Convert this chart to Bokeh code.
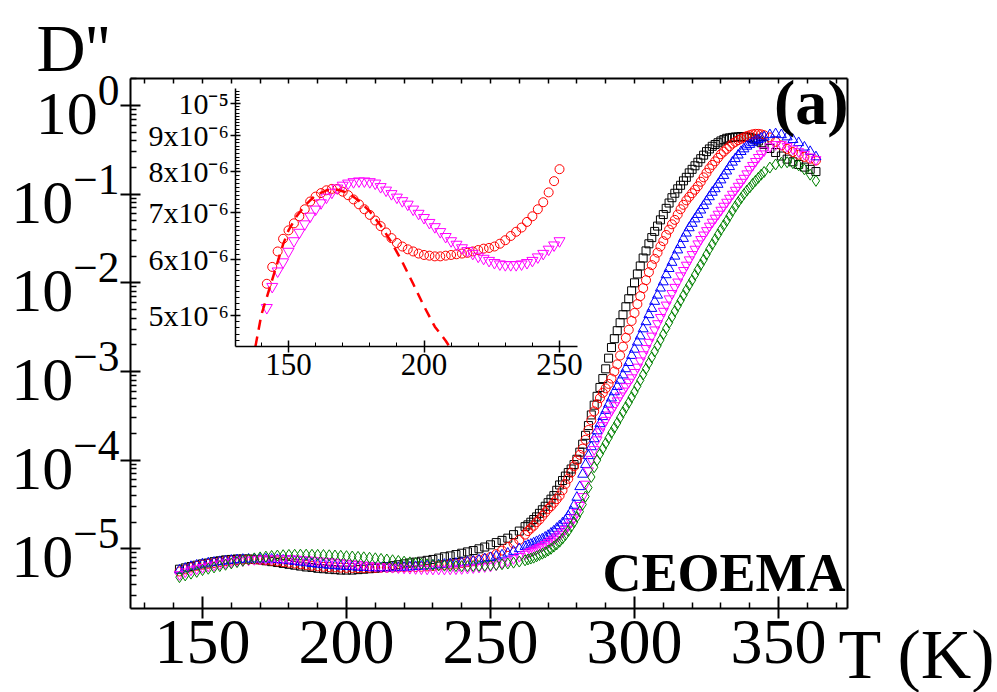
from bokeh.plotting import figure
from bokeh.models import (Range1d, LogScale, LinearAxis, LogAxis, FixedTicker, Label,
                          CustomJSTickFormatter)
from bokeh.embed import file_html
from bokeh.resources import INLINE

FONT = "Liberation Serif"

# Temperature grid (K): 2 K steps at low T, 1 K steps through the steep rise, 2 K steps near the top
T = list(range(142, 263, 2)) + list(range(263, 346)) + list(range(347, 364, 2))

# log10 D''
black_log10 = [
    -5.23, -5.215, -5.20, -5.185, -5.17, -5.16, -5.145, -5.135, -5.125, -5.12,
    -5.115, -5.115, -5.115, -5.12, -5.125, -5.135, -5.145, -5.155, -5.165, -5.175,
    -5.185, -5.195, -5.205, -5.21, -5.22, -5.225, -5.23, -5.235, -5.24, -5.24,
    -5.24, -5.235, -5.23, -5.225, -5.22, -5.21, -5.20, -5.19, -5.18, -5.17,
    -5.16, -5.15, -5.14, -5.13, -5.12, -5.105, -5.09, -5.08, -5.065, -5.05,
    -5.035, -5.02, -5.00, -4.98, -4.955, -4.93, -4.905, -4.88, -4.84, -4.80,
    -4.75,
    -4.73, -4.70, -4.67, -4.64, -4.60, -4.56, -4.52, -4.48, -4.44, -4.40,
    -4.34, -4.28, -4.23, -4.18, -4.14, -4.10, -4.05, -3.99, -3.91, -3.82,
    -3.72, -3.61, -3.49, -3.38, -3.28, -3.18, -3.08, -2.97, -2.85, -2.73,
    -2.63, -2.54, -2.45, -2.36, -2.27, -2.18, -2.09, -2.00, -1.90, -1.81,
    -1.72, -1.64, -1.56, -1.49, -1.42, -1.36, -1.29, -1.23, -1.16, -1.10,
    -1.04, -0.99, -0.94, -0.90, -0.85, -0.81, -0.76, -0.72, -0.68, -0.64,
    -0.60, -0.56, -0.52, -0.49, -0.46, -0.44, -0.42, -0.40, -0.385, -0.37,
    -0.365, -0.36, -0.355, -0.355, -0.35, -0.355, -0.355, -0.36, -0.37, -0.38,
    -0.40, -0.42, -0.44,
    -0.485, -0.53, -0.57, -0.605, -0.635, -0.665, -0.695, -0.72, -0.745,
]

red_log10 = [
    -5.256, -5.232, -5.21, -5.192, -5.18, -5.17, -5.16, -5.15, -5.139, -5.132,
    -5.127, -5.123, -5.121, -5.121, -5.125, -5.13, -5.136, -5.143, -5.15, -5.158,
    -5.166, -5.174, -5.183, -5.191, -5.198, -5.203, -5.207, -5.21, -5.213, -5.215,
    -5.216, -5.217, -5.217, -5.216, -5.215, -5.214, -5.213, -5.212, -5.21, -5.208,
    -5.206, -5.205, -5.203, -5.199, -5.194, -5.188, -5.182, -5.176, -5.168, -5.16,
    -5.15, -5.14, -5.126, -5.11, -5.093, -5.06, -5.02, -4.98, -4.94, -4.90,
    -4.84,
    -4.80, -4.77, -4.74, -4.70, -4.67, -4.63, -4.59, -4.55, -4.52, -4.48,
    -4.44, -4.40, -4.34, -4.27, -4.21, -4.14, -4.07, -4.00, -3.94, -3.87,
    -3.77, -3.66, -3.55, -3.45, -3.37, -3.30, -3.24, -3.19, -3.14, -3.08,
    -3.00, -2.92, -2.82, -2.72, -2.62, -2.53, -2.43, -2.34, -2.24, -2.15,
    -2.06, -1.97, -1.88, -1.80, -1.73, -1.66, -1.59, -1.53, -1.46, -1.40,
    -1.34, -1.29, -1.23, -1.17, -1.12, -1.07, -1.03, -0.99, -0.95, -0.91,
    -0.86, -0.81, -0.76, -0.71, -0.67, -0.63, -0.59, -0.55, -0.52, -0.49,
    -0.46, -0.43, -0.41, -0.39, -0.375, -0.36, -0.345, -0.335, -0.325, -0.32,
    -0.32, -0.325, -0.335,
    -0.36, -0.41, -0.45, -0.49, -0.525, -0.555, -0.58, -0.60, -0.62,
]

blue_log10 = [
    -5.24, -5.22, -5.20, -5.185, -5.17, -5.16, -5.152, -5.145, -5.138, -5.13,
    -5.125, -5.12, -5.118, -5.116, -5.115, -5.116, -5.118, -5.122, -5.128, -5.135,
    -5.143, -5.151, -5.159, -5.167, -5.175, -5.181, -5.187, -5.192, -5.197, -5.20,
    -5.204, -5.208, -5.211, -5.213, -5.215, -5.216, -5.216, -5.215, -5.213, -5.21,
    -5.206, -5.202, -5.198, -5.193, -5.188, -5.182, -5.176, -5.17, -5.164, -5.157,
    -5.149, -5.14, -5.128, -5.114, -5.10, -5.085, -5.07, -5.05, -5.03, -5.00,
    -4.975,
    -4.96, -4.95, -4.935, -4.92, -4.905, -4.89, -4.87, -4.85, -4.825, -4.80,
    -4.77, -4.74, -4.71, -4.68, -4.63, -4.58, -4.51, -4.42, -4.30, -4.16,
    -4.05, -3.95, -3.85, -3.76, -3.67, -3.59, -3.51, -3.44, -3.37, -3.30,
    -3.23, -3.17, -3.10, -3.04, -2.97, -2.90, -2.82, -2.75, -2.67, -2.60,
    -2.52, -2.44, -2.36, -2.29, -2.21, -2.14, -2.06, -1.99, -1.91, -1.84,
    -1.77, -1.70, -1.63, -1.57, -1.50, -1.44, -1.38, -1.33, -1.28, -1.23,
    -1.18, -1.13, -1.08, -1.03, -0.98, -0.94, -0.89, -0.84, -0.79, -0.74,
    -0.69, -0.64, -0.60, -0.56, -0.52, -0.49, -0.46, -0.44, -0.42, -0.40,
    -0.385, -0.37, -0.355,
    -0.33, -0.32, -0.33, -0.355, -0.385, -0.42, -0.47, -0.52, -0.58,
]

magenta_log10 = [
    -5.29, -5.26, -5.238, -5.225, -5.21, -5.195, -5.183, -5.171, -5.16, -5.15,
    -5.141, -5.133, -5.126, -5.12, -5.116, -5.113, -5.111, -5.11, -5.11, -5.111,
    -5.113, -5.118, -5.123, -5.128, -5.133, -5.138, -5.143, -5.15, -5.156, -5.162,
    -5.169, -5.175, -5.182, -5.189, -5.195, -5.20, -5.205, -5.209, -5.213, -5.217,
    -5.22, -5.223, -5.226, -5.228, -5.229, -5.229, -5.229, -5.228, -5.226, -5.223,
    -5.218, -5.213, -5.207, -5.201, -5.195, -5.18, -5.16, -5.135, -5.11, -5.085,
    -5.06,
    -5.045, -5.03, -5.015, -5.00, -4.985, -4.97, -4.95, -4.93, -4.91, -4.89,
    -4.865, -4.84, -4.81, -4.78, -4.74, -4.70, -4.65, -4.59, -4.51, -4.41,
    -4.27, -4.12, -3.99, -3.88, -3.77, -3.68, -3.61, -3.55, -3.49, -3.44,
    -3.385, -3.33, -3.275, -3.22, -3.17, -3.12, -3.07, -3.01, -2.95, -2.88,
    -2.81, -2.74, -2.67, -2.60, -2.53, -2.46, -2.39, -2.32, -2.25, -2.18,
    -2.12, -2.05, -1.99, -1.92, -1.86, -1.80, -1.74, -1.68, -1.62, -1.56,
    -1.51, -1.46, -1.41, -1.36, -1.315, -1.27, -1.225, -1.18, -1.135, -1.09,
    -1.045, -1.00, -0.955, -0.91, -0.865, -0.82, -0.77, -0.72, -0.675, -0.63,
    -0.585, -0.545, -0.51,
    -0.465, -0.44, -0.44, -0.46, -0.49, -0.52, -0.55, -0.58, -0.61,
]

green_log10 = [
    -5.32, -5.30, -5.28, -5.26, -5.24, -5.225, -5.21, -5.195, -5.18, -5.165,
    -5.15, -5.135, -5.12, -5.108, -5.097, -5.088, -5.081, -5.076, -5.072, -5.069,
    -5.067, -5.066, -5.066, -5.067, -5.068, -5.07, -5.073, -5.076, -5.079, -5.083,
    -5.087, -5.091, -5.096, -5.101, -5.107, -5.114, -5.121, -5.129, -5.137, -5.145,
    -5.153, -5.161, -5.168, -5.175, -5.181, -5.186, -5.19, -5.193, -5.195, -5.196,
    -5.196, -5.195, -5.193, -5.19, -5.186, -5.181, -5.174, -5.166, -5.156, -5.144,
    -5.13,
    -5.12, -5.11, -5.10, -5.085, -5.07, -5.055, -5.04, -5.02, -5.00, -4.975,
    -4.95, -4.92, -4.885, -4.845, -4.80, -4.75, -4.70, -4.64, -4.58, -4.50,
    -4.41, -4.31, -4.19, -4.08, -4.00, -3.93, -3.87, -3.81, -3.75, -3.69,
    -3.635, -3.58, -3.52, -3.46, -3.405, -3.35, -3.29, -3.23, -3.165, -3.10,
    -3.035, -2.97, -2.905, -2.84, -2.775, -2.71, -2.645, -2.58, -2.515, -2.45,
    -2.385, -2.32, -2.26, -2.20, -2.14, -2.08, -2.025, -1.97, -1.91, -1.85,
    -1.795, -1.74, -1.68, -1.62, -1.565, -1.51, -1.455, -1.40, -1.35, -1.30,
    -1.245, -1.19, -1.14, -1.09, -1.045, -1.00, -0.96, -0.925, -0.885, -0.85,
    -0.815, -0.78, -0.75,
    -0.70, -0.665, -0.645, -0.64, -0.65, -0.675, -0.72, -0.78, -0.85,
]

# dashed fit curve in the inset
fit_T = [137.8, 140, 142, 144, 146, 148, 150, 153, 156, 160, 164, 168, 172, 176,
         180, 184, 188, 192, 196, 200, 204, 208, 209.5]
fit_log10 = [-5.345, -5.30, -5.275, -5.25, -5.225, -5.20, -5.18, -5.16, -5.145, -5.13,
             -5.123, -5.122, -5.127, -5.138, -5.153, -5.173, -5.197, -5.225, -5.256,
             -5.288, -5.317, -5.337, -5.346]

x_ticks = [150, 200, 250, 300, 350]
x_minor = [130, 140, 160, 170, 180, 190, 210, 220, 230, 240, 260, 270, 280, 290,
           310, 320, 330, 340, 360, 370]
y_ticks = [1e-5, 1e-4, 1e-3, 1e-2, 1e-1, 1e0]
inset_x_ticks = [150, 200, 250]
inset_x_minor = [140, 160, 170, 180, 190, 210, 220, 230, 240]
inset_y_ticks = [5e-6, 6e-6, 7e-6, 8e-6, 9e-6, 1e-5]
inset_T_max = 251

# axis extents (main box and inset box), in data units
X_MIN, X_MAX = 125, 374
Y_MIN, Y_MAX = 2.12e-6, 2.016
IX_MIN, IX_MAX = 130.6, 256.5
IY_MIN, IY_MAX = 4.51e-6, 1.05e-5


def D(logs):
    return [10 ** v for v in logs]


# The data frame covers the whole canvas; every axis is pinned with fixed_location,
# so that nothing outside the axes box gets clipped.
p = figure(width=997, height=692, x_range=Range1d(79.861, 426.04),
           y_range=Range1d(2.3943e-7, 15.288), y_axis_type="log",
           x_axis_location=None, y_axis_location=None,
           output_backend="svg", toolbar_location=None, min_border=0)
p.title.visible = False
p.extra_x_ranges = {"ix": Range1d(43.727, 411.62)}
p.extra_y_ranges = {"iy": Range1d(1.4545e-6, 1.4025e-5)}
p.extra_y_scales = {"iy": LogScale()}
p.grid.visible = False
p.outline_line_color = None
p.background_fill_color = "white"
p.border_fill_color = "white"


def style_axis(ax, label_size, tick_out, tick_in, minor_in, standoff, width=2):
    ax.axis_line_width = width
    ax.axis_line_color = "black"
    ax.major_tick_line_width = width
    ax.major_tick_line_color = "black"
    ax.major_tick_out = tick_out
    ax.major_tick_in = tick_in
    ax.minor_tick_line_width = 1.5
    ax.minor_tick_line_color = "black"
    ax.minor_tick_in = minor_in
    ax.minor_tick_out = 0
    ax.major_label_text_font = FONT
    ax.major_label_text_font_size = label_size
    ax.major_label_text_color = "black"
    ax.major_label_standoff = standoff


# main box
xa = LinearAxis(fixed_location=Y_MIN, bounds=(X_MIN, X_MAX),
                ticker=FixedTicker(ticks=x_ticks, minor_ticks=x_minor))
style_axis(xa, "64px", 10, 12, 6, 2)
p.add_layout(xa, "below")

y_minor = [m * 10.0 ** e for e in range(-6, 1) for m in range(2, 10)]
y_minor = [v for v in y_minor if Y_MIN <= v <= Y_MAX]
ya = LogAxis(fixed_location=X_MIN, bounds=(Y_MIN, Y_MAX),
             ticker=FixedTicker(ticks=y_ticks, minor_ticks=y_minor))
style_axis(ya, "62px", 10, 10, 6, 1)
p.add_layout(ya, "left")

top = LinearAxis(fixed_location=Y_MAX, bounds=(X_MIN, X_MAX),
                 ticker=FixedTicker(ticks=[], minor_ticks=x_minor + x_ticks))
style_axis(top, "10px", 0, 5, 5, 0)
p.add_layout(top, "above")

right = LogAxis(fixed_location=X_MAX, bounds=(Y_MIN, Y_MAX),
                ticker=FixedTicker(ticks=[], minor_ticks=[]))
style_axis(right, "10px", 0, 0, 0, 0)
p.add_layout(right, "right")

# main data
p.scatter(T, D(black_log10), marker="square", size=8, fill_color=None, line_color="black", line_width=1)
p.scatter(T, D(red_log10), marker="circle", size=9, fill_color=None, line_color="red", line_width=1)
p.scatter(T, D(blue_log10), marker="triangle", size=10, fill_color=None, line_color="blue", line_width=1)
p.scatter(T, D(magenta_log10), marker="inverted_triangle", size=10, fill_color=None,
          line_color="magenta", line_width=1)
p.scatter(T, D(green_log10), marker="diamond", size=11, fill_color=None, line_color="green", line_width=1)

# inset
ins = [i for i, t in enumerate(T) if t <= inset_T_max]
iT = [T[i] for i in ins]
p.scatter(iT, D([red_log10[i] for i in ins]), marker="circle", size=9, fill_color=None,
          line_color="red", line_width=1, x_range_name="ix", y_range_name="iy")
p.scatter(iT, D([magenta_log10[i] for i in ins]), marker="inverted_triangle", size=11,
          fill_color=None, line_color="magenta", line_width=1, x_range_name="ix", y_range_name="iy")
p.line(fit_T, D(fit_log10), line_color="red", line_width=2.5, line_dash="10 7",
       x_range_name="ix", y_range_name="iy")

ix_axis = LinearAxis(x_range_name="ix", y_range_name="iy", fixed_location=IY_MIN,
                     bounds=(IX_MIN, IX_MAX),
                     ticker=FixedTicker(ticks=inset_x_ticks, minor_ticks=inset_x_minor))
style_axis(ix_axis, "31px", 6, 6, 4, 1, width=1.5)
ix_axis.minor_tick_line_width = 1
p.add_layout(ix_axis, "below")

iy_axis = LogAxis(y_range_name="iy", x_range_name="ix", fixed_location=IX_MIN,
                  bounds=(IY_MIN, IY_MAX),
                  ticker=FixedTicker(ticks=inset_y_ticks,
                                     minor_ticks=[k * 1e-7 for k in range(46, 105) if k % 10 != 0]),
                  formatter=CustomJSTickFormatter(code=r"""
const m = Math.round(tick * 1e6);
if (m >= 10) return "10\u207B\u2075";
return m + "x10\u207B\u2076";
"""))
style_axis(iy_axis, "30px", 5, 5, 4, 2, width=1.5)
iy_axis.minor_tick_line_width = 1
p.add_layout(iy_axis, "left")

# texts (screen units measured from the canvas bottom-left)
p.add_layout(Label(x=36, y=645, x_units="screen", y_units="screen", text="D''",
                   text_font=FONT, text_font_size="68px", text_baseline="alphabetic",
                   text_align="left", text_color="black"))
p.add_layout(Label(x=848, y=590, x_units="screen", y_units="screen", text="(a)",
                   text_font=FONT, text_font_size="64px", text_font_style="bold",
                   text_baseline="alphabetic", text_align="right", text_color="black"))
p.add_layout(Label(x=845, y=120, x_units="screen", y_units="screen", text="CEOEMA",
                   text_font=FONT, text_font_size="54px", text_font_style="bold",
                   text_baseline="alphabetic", text_align="right", text_color="black"))
p.add_layout(Label(x=838, y=38, x_units="screen", y_units="screen", text="T (K)",
                   text_font=FONT, text_font_size="70px",
                   text_baseline="alphabetic", text_align="left", text_color="black"))

open("out.html", "w").write(file_html(p, INLINE))
